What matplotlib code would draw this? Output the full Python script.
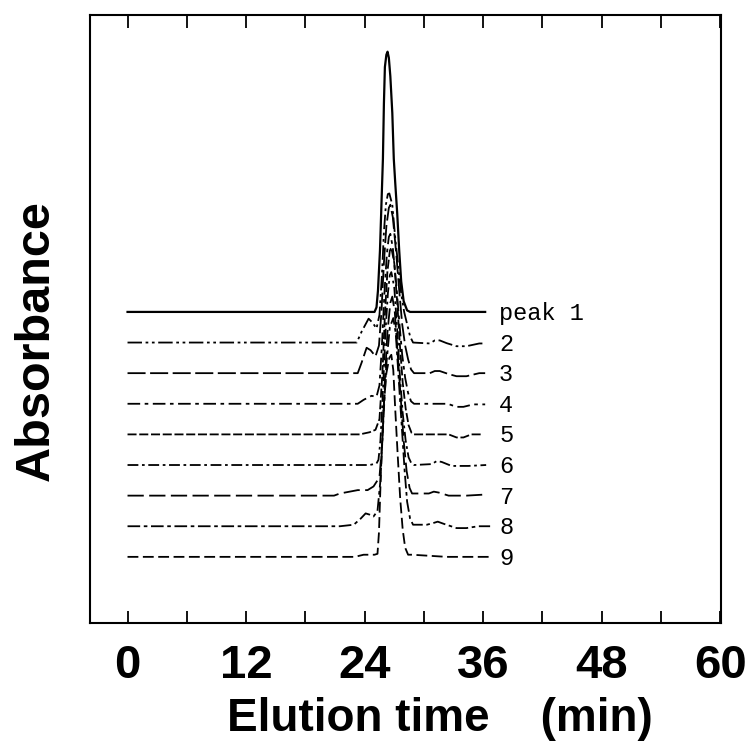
import matplotlib
matplotlib.use('Agg')
import matplotlib.pyplot as plt
from matplotlib.ticker import MultipleLocator

# Chromatograms of collected fractions (time in min, absorbance in arbitrary units
# relative to each trace's own baseline)
labels = ['peak 1', '2', '3', '4', '5', '6', '7', '8', '9']

t1 = [0, 25.0, 25.2, 25.35, 25.55, 25.7, 25.85, 25.95, 26.05, 26.2, 26.32, 26.45, 26.6,
      26.8, 26.95, 27.1, 27.3, 27.5, 27.7, 27.95, 28.3, 28.6, 36.2]
a1 = [0, 0, 0.15, 0.7, 2.0, 3.5, 5.0, 6.8, 8.0, 8.4, 8.5, 8.3, 7.7,
      6.5, 5.0, 4.2, 3.2, 2.0, 1.0, 0.35, 0.05, 0, 0]

t2 = [0, 23.2, 23.7, 24.4, 24.8, 25.2, 25.5, 25.75, 25.95, 26.15, 26.35, 26.5, 26.8,
      27.1, 27.4, 27.7, 28.0, 28.3, 28.6, 28.9, 30.6, 31.1, 31.6, 32.3, 33.3, 34.3,
      35.6, 36.2]
a2 = [0, 0, 0.36, 0.78, 0.65, 0.46, 0.9, 2.2, 3.6, 4.5, 4.85, 4.87, 4.5,
      3.4, 2.5, 1.6, 1.0, 0.6, 0.2, 0.0, -0.03, 0.07, 0.07, -0.02, -0.12, -0.12,
      -0.03, -0.03]

t3 = [0, 23.3, 23.7, 24.2, 24.6, 25.1, 25.45, 25.7, 25.95, 26.2, 26.45, 26.6, 26.85,
      27.2, 27.5, 27.8, 28.1, 28.4, 28.7, 29.0, 30.6, 31.1, 31.6, 32.5, 33.3, 34.3,
      35.6, 36.2]
a3 = [0, 0, 0.35, 0.83, 0.75, 0.55, 0.9, 2.0, 3.6, 4.8, 5.4, 5.5, 5.1,
      3.9, 2.7, 1.6, 0.9, 0.45, 0.12, 0.0, 0.0, 0.07, 0.07, -0.03, -0.1, -0.1,
      0.0, 0.0]

t4 = [0, 23.3, 23.9, 24.7, 25.2, 25.5, 25.75, 26.0, 26.25, 26.45, 26.6, 26.85, 27.2,
      27.5, 27.8, 28.1, 28.4, 28.7, 29.0, 32.4, 33.3, 34.0, 35.0, 36.2]
a4 = [0, 0, 0.13, 0.26, 0.23, 0.6, 1.9, 3.6, 4.9, 5.45, 5.55, 5.1, 3.9,
      2.7, 1.6, 0.85, 0.35, 0.08, 0.0, 0.0, -0.1, -0.1, -0.02, -0.02]

t5 = [0, 23.5, 24.5, 25.1, 25.5, 25.8, 26.05, 26.3, 26.55, 26.7, 27.0, 27.3, 27.55,
      27.85, 28.15, 28.45, 28.75, 29.0, 32.5, 33.3, 34.0, 34.8, 35.9]
a5 = [0, 0, 0.07, 0.15, 0.5, 2.0, 3.9, 5.3, 6.0, 6.1, 5.6, 4.3, 3.0,
      1.7, 0.85, 0.3, 0.05, 0.0, 0.0, -0.1, -0.1, 0.0, 0.0]

t6 = [0, 24.5, 25.2, 25.4, 25.6, 25.85, 26.1, 26.35, 26.55, 26.7, 27.0, 27.3, 27.55,
      27.85, 28.15, 28.45, 28.75, 29.0, 30.8, 31.3, 31.8, 32.8, 34.5, 36.3]
a6 = [0, 0, 0.05, 0.17, 0.8, 2.4, 4.3, 5.6, 6.2, 6.3, 5.8, 4.4, 3.0,
      1.7, 0.8, 0.25, 0.04, 0.0, 0.03, 0.13, 0.1, -0.03, -0.03, 0.0]

t7 = [0, 20.9, 21.5, 23.3, 24.3, 24.9, 25.5, 25.8, 26.05, 26.3, 26.6, 26.8, 27.05,
      27.35, 27.65, 27.95, 28.25, 28.55, 28.8, 29.1, 30.5, 31.0, 31.5, 32.5, 34.3, 35.9]
a7 = [0, 0, 0.07, 0.18, 0.18, 0.3, 0.6, 1.8, 3.8, 5.3, 6.3, 6.5, 6.0,
      4.6, 3.2, 1.8, 0.8, 0.25, 0.07, 0.07, 0.07, 0.13, 0.1, 0.0, 0.0, 0.03]

t8 = [0, 21.5, 22.9, 23.6, 24.1, 24.5, 24.9, 25.3, 25.6, 25.9, 26.2, 26.55, 26.9,
      27.15, 27.45, 27.75, 28.05, 28.3, 28.6, 28.9, 30.3, 30.9, 31.4, 32.0, 33.3, 34.3,
      35.5, 36.7]
a8 = [0, 0, 0.05, 0.25, 0.42, 0.38, 0.32, 0.5, 1.5, 3.5, 5.3, 6.5, 6.8,
      6.3, 4.8, 3.3, 1.8, 0.8, 0.25, 0.05, 0.05, 0.1, 0.15, 0.08, -0.06, -0.06,
      0.0, 0.0]

t9 = [0, 23.0, 23.9, 25.0, 25.3, 25.45, 25.65, 25.9, 26.2, 26.5, 26.7, 26.9, 27.1,
      27.35, 27.6, 27.85, 28.1, 28.4, 28.8, 32.3, 36.7]
a9 = [0, 0, 0.07, 0.07, 0.1, 0.8, 2.8, 4.8, 6.0, 6.5, 6.6, 6.1, 4.8,
      3.3, 1.9, 0.9, 0.3, 0.07, 0.07, 0.0, 0.0]

times = [t1, t2, t3, t4, t5, t6, t7, t8, t9]
absorb = [a1, a2, a3, a4, a5, a6, a7, a8, a9]

# plotter line patterns of the original (first trace solid, the rest broken)
styles = ['-', (0, (8, 2, 1.5, 2, 1.5, 2)), (0, (10, 2.5)), (0, (7, 2.5, 2, 2.5)),
          (0, (5, 1.5)), (0, (6, 2, 1.5, 2)), (0, (9, 3)), (0, (7, 2, 2, 2)),
          (0, (6, 2.5))]

fig = plt.figure(figsize=(7.48, 7.47), dpi=100)
ax = fig.add_axes([0.1203, 0.166, 0.8440, 0.814])

n = len(labels)
for i in range(n):
    offset = n - 1 - i
    y = [v + offset for v in absorb[i]]
    lw = 1.6 if i == 0 else 1.3
    ax.plot(times[i], y, color='black', lw=lw, linestyle=styles[i])
    ax.text(37.6, offset - 0.05, labels[i], family='Liberation Mono',
            fontsize=17, va='center', ha='left')

ax.set_xlim(-3.8, 60.1)
ax.set_ylim(-2.16, 17.7)

ax.xaxis.set_major_locator(MultipleLocator(12))
ax.xaxis.set_minor_locator(MultipleLocator(6))
ax.tick_params(axis='x', which='both', direction='in', top=True, bottom=True,
               length=9, width=1.3, pad=15)
ax.tick_params(axis='x', which='major', labelsize=34)
ax.set_yticks([])
for lab in ax.get_xticklabels():
    lab.set_family('Liberation Sans')
    lab.set_fontweight('bold')
for sp in ax.spines.values():
    sp.set_linewidth(1.5)

fig.text(440 / 748, 1 - 719 / 747, 'Elution time    (min)', family='Liberation Sans',
         fontweight='bold', fontsize=33, ha='center', va='center')
fig.text(36 / 748, 1 - 341 / 747, 'Absorbance', family='Liberation Sans',
         fontweight='bold', fontsize=35, ha='center', va='center', rotation=90)

fig.savefig('out.png', dpi=100)
